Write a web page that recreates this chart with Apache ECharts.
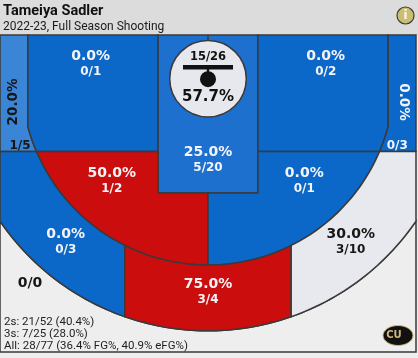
<!DOCTYPE html>
<html><head><meta charset="utf-8">
<script src="https://cdn.jsdelivr.net/npm/echarts@6/dist/echarts.min.js"></script>
<style>html,body{margin:0;padding:0;background:#eeeeee;}#c{width:418px;height:358px;}</style>
</head><body><div id="c"></div>
<script>
// ---------- DATA ----------
const playerName = 'Tameiya Sadler';
const subtitleText = '2022-23, Full Season Shooting';
const zoneNames    = ['Deep 3','Left Corner 3','Left Baseline 2','Paint','Right Baseline 2','Right Corner 3','Left Elbow 2','Right Elbow 2','Left Wing 3','Top 3','Right Wing 3','Rim'];
const zoneMakes    = [0, 1, 0, 5, 0, 0, 1, 0, 0, 3, 3, 15];
const zoneAttempts = [0, 5, 1, 20, 2, 3, 2, 1, 3, 4, 10, 26];
const zoneShotValue= [3, 3, 2, 2, 2, 3, 2, 2, 3, 3, 3, 2];

// ---------- STYLES ----------
const BLUE='#0b68c9', RED='#cc0d0d', LIGHT='#e8e9ee', BG='#eeeeee';
const zoneStyle = {
  'Deep 3':{fill:BG,text:'#161616'},
  'Left Corner 3':{fill:'#3a85d6',text:'#161616'},
  'Left Baseline 2':{fill:BLUE,text:'#f4f4f8'},
  'Paint':{fill:'#1e70ce',text:'#f4f4f8'},
  'Right Baseline 2':{fill:BLUE,text:'#f4f4f8'},
  'Right Corner 3':{fill:BLUE,text:'#f4f4f8'},
  'Left Elbow 2':{fill:RED,text:'#f4f4f8'},
  'Right Elbow 2':{fill:BLUE,text:'#f4f4f8'},
  'Left Wing 3':{fill:BLUE,text:'#f4f4f8'},
  'Top 3':{fill:RED,text:'#f4f4f8'},
  'Right Wing 3':{fill:LIGHT,text:'#161616'},
  'Rim':{fill:'#e7e8ed',text:'#111111'}
};
const LINE='#3a3a3a';

// ---------- COURT GEOMETRY (feet) ----------
const C = {w:25, by:5.25, r3:22.4, cx3:21.65, rOut:30.3, lane:6, ft:19, base:14, wing:10, rimR:4.6, len:38.1};
const labelAt = {
  'Deep 3':[-21.4,29.8],
  'Left Baseline 2':[-14.1,3.5], 'Right Baseline 2':[14.15,3.5],
  'Paint':[0,15.05],
  'Left Elbow 2':[-11.57,17.57], 'Right Elbow 2':[11.57,17.57],
  'Left Wing 3':[-17.1,24.88], 'Right Wing 3':[17.15,24.88],
  'Top 3':[0,30.95]
};
const cornerLabel = {
  'Left Corner 3':{pct:[-23.4,8.05], frac:[-22.6,13.35], rot:Math.PI/2},
  'Right Corner 3':{pct:[23.45,8.05], frac:[22.75,13.35], rot:-Math.PI/2}
};

function arcPts(R,x0,x1,n){
  const t0=Math.asin(x0/R), t1=Math.asin(x1/R), out=[];
  for(let k=0;k<=n;k++){const t=t0+(t1-t0)*k/n; out.push([R*Math.sin(t), C.by+R*Math.cos(t)]);}
  return out;
}
const yc = C.by+Math.sqrt(C.r3*C.r3-C.cx3*C.cx3);
const xb = Math.sqrt(C.r3*C.r3-(C.base-C.by)*(C.base-C.by));
const leftShapes = {
  'Corner 3':[[-C.w,0],[-C.cx3,0],[-C.cx3,yc],...arcPts(C.r3,-C.cx3,-xb,8),[-C.w,C.base]],
  'Baseline 2':[[-C.cx3,0],[-C.lane,0],[-C.lane,C.base],[-xb,C.base],...arcPts(C.r3,-xb,-C.cx3,8)],
  'Elbow 2':[[-xb,C.base],[-C.lane,C.base],[-C.lane,C.ft],[0,C.ft],...arcPts(C.r3,0,-xb,50)],
  'Wing 3':[[-C.w,C.base],[-xb,C.base],...arcPts(C.r3,-xb,-C.wing,30),...arcPts(C.rOut,-C.wing,-C.w,30)]
};
function zonePolygon(name){
  if(name==='Paint') return [[-C.lane,0],[C.lane,0],[C.lane,C.ft],[-C.lane,C.ft]];
  if(name==='Top 3') return [...arcPts(C.r3,-C.wing,C.wing,40),...arcPts(C.rOut,C.wing,-C.wing,40)];
  if(name==='Deep 3') return [...arcPts(C.rOut,-C.w,C.w,80),[C.w,C.len],[-C.w,C.len]];
  if(name.indexOf('Left ')===0) return leftShapes[name.slice(5)];
  return leftShapes[name.slice(6)].map(p=>[-p[0],p[1]]);
}

function txt(x,y,text,fill,size,weight,family,extra){
  return Object.assign({type:'text',x:x,y:y,style:{text:text,fill:fill,fontSize:size,fontWeight:weight||'bold',fontFamily:family||'DejaVu Sans',align:'center',verticalAlign:'middle'}},extra||{});
}

function renderItem(params, api){
  const i=params.dataIndex, name=zoneNames[i], st=zoneStyle[name];
  const m=zoneMakes[i], a=zoneAttempts[i];
  const pct = a>0 ? (100*m/a).toFixed(1)+'%' : null;
  const frac = m+'/'+a;
  const P = p=>api.coord(p);
  const sc = Math.abs(api.size([1,0])[0]);
  const ch=[];
  if(name==='Rim'){
    const c=P([0,C.by]), r=C.rimR*sc, top=P([0,0]);
    ch.push({type:'line',shape:{x1:top[0],y1:top[1],x2:c[0],y2:c[1]-r},style:{stroke:LINE,lineWidth:1.5}});
    ch.push({type:'circle',shape:{cx:c[0],cy:c[1],r:r},style:{fill:st.fill,stroke:LINE,lineWidth:1.5}});
    ch.push(txt(c[0],c[1]-21.5,frac,st.text,11.5,'bold'));
    ch.push({type:'rect',shape:{x:c[0]-25,y:c[1]-13.8,width:50,height:4.5},style:{fill:'#111'}});
    ch.push({type:'rect',shape:{x:c[0]-1.2,y:c[1]-10,width:2.4,height:4},style:{fill:'#111'}});
    ch.push({type:'circle',shape:{cx:c[0],cy:c[1]+0.5,r:8},style:{fill:'#111'}});
    ch.push(txt(c[0],c[1]+18.5,pct,st.text,15,'bold'));
    return {type:'group',children:ch};
  }
  const pts=zonePolygon(name).map(P);
  ch.push({type:'polygon',shape:{points:pts},style:{fill:st.fill,stroke:LINE,lineWidth:1.5}});
  if(cornerLabel[name]){
    const cl=cornerLabel[name], pp=P(cl.pct), fp=P(cl.frac);
    ch.push(txt(pp[0],pp[1],pct,st.text,13.5,'bold',null,{rotation:cl.rot}));
    ch.push(txt(fp[0],fp[1],frac,st.text,12,'bold'));
  } else {
    const c=P(labelAt[name]);
    if(pct){
      ch.push(txt(c[0],c[1]-7.8,pct,st.text,14,'bold'));
      ch.push(txt(c[0],c[1]+7.8,frac,st.text,12,'bold'));
    } else {
      ch.push(txt(c[0],c[1],frac,st.text,14,'bold'));
    }
  }
  return {type:'group',children:ch};
}

// ---------- SUMMARY ----------
let m2=0,a2=0,m3=0,a3=0;
zoneNames.forEach((n,i)=>{ if(zoneShotValue[i]===2){m2+=zoneMakes[i];a2+=zoneAttempts[i];} else {m3+=zoneMakes[i];a3+=zoneAttempts[i];} });
const mAll=m2+m3, aAll=a2+a3;
const f1=v=>(100*v).toFixed(1)+'%';
const statLines=[
  '2s: '+m2+'/'+a2+' ('+f1(m2/a2)+')',
  '3s: '+m3+'/'+a3+' ('+f1(m3/a3)+')',
  'All: '+mAll+'/'+aAll+' ('+f1(mAll/aAll)+' FG%, '+f1((mAll+0.5*m3)/aAll)+' eFG%)'
];

const chart=echarts.init(document.getElementById('c'),null,{renderer:'canvas'});
chart.setOption({
  backgroundColor:BG,
  animation:false,
  grid:{left:0,top:35,width:416,height:317},
  xAxis:{type:'value',min:-C.w,max:C.w,show:false},
  yAxis:{type:'value',min:0,max:C.len,inverse:true,show:false},
  series:[{type:'custom',coordinateSystem:'cartesian2d',clip:false,renderItem:renderItem,
    data:zoneNames.map((n,i)=>({name:n,value:[0,0,i]})),encode:{x:0,y:1},silent:true}],
  graphic:[
    {type:'rect',z:-1,shape:{x:0,y:0,width:418,height:35},style:{fill:'#dcdcdc'}},
    {type:'text',z:100,left:3,top:4,style:{text:playerName,fill:'#111',fontSize:14.5,fontWeight:'bold',fontFamily:'Roboto'}},
    {type:'text',z:100,left:3,top:21,style:{text:subtitleText,fill:'#1a1a1a',fontSize:12,fontFamily:'Roboto'}},
    {type:'circle',z:100,shape:{cx:405.5,cy:15.5,r:8.5},style:{fill:'#cbbd74',stroke:'#3a3a3a',lineWidth:1.2}},
    {type:'text',z:101,x:405.5,y:15.5,style:{text:'i',fill:'#fbf6dc',fontSize:13,fontWeight:'bold',fontFamily:'DejaVu Sans',align:'center',verticalAlign:'middle'}},
    {type:'text',z:100,left:4,top:316,style:{text:statLines.join('\n'),fill:'#1e1e1e',fontSize:11.5,lineHeight:12,fontFamily:'Roboto'}},
    {type:'ellipse',z:100,shape:{cx:398,cy:335.5,rx:15,ry:10},style:{fill:'#111',stroke:'#cfb87c',lineWidth:1}},
    {type:'text',z:101,x:394,y:335,style:{text:'CU',fill:'#cfb87c',fontSize:10,fontWeight:'bold',fontFamily:'DejaVu Sans',align:'center',verticalAlign:'middle'}}
  ]
});
</script></body></html>
